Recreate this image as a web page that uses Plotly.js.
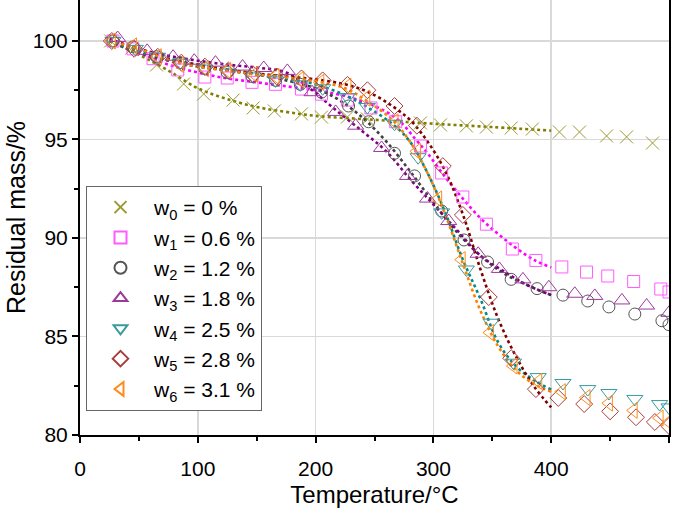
<!DOCTYPE html>
<html>
<head>
<meta charset="utf-8">
<script src="https://cdn.plot.ly/plotly-3.0.1.min.js"></script>
<style>html,body{margin:0;padding:0;background:#fff;}#chart{width:685px;height:508px;}</style>
</head>
<body>
<div id="chart"></div>
<script>
// ---- measured data (temperature °C, residual mass %) ----
const seriesNames = ["w<sub>0</sub> = 0 %","w<sub>1</sub> = 0.6 %","w<sub>2</sub> = 1.2 %","w<sub>3</sub> = 1.8 %","w<sub>4</sub> = 2.5 %","w<sub>5</sub> = 2.8 %","w<sub>6</sub> = 3.1 %"];

const w0_T = [26,44,65,88,105,130,147,165,188,205,227,244,289,306,328,345,366,384,407,424,447,464,486];
const w0_m = [100,99.64,98.78,97.82,97.31,97.0,96.6,96.45,96.3,96.14,96.14,96.04,95.84,95.74,95.69,95.63,95.58,95.53,95.38,95.38,95.18,95.13,94.82];

const w1_T = [28,45,62,83,106,125,146,166,188,205,227,247,268,289,307,325,345,367,387,409,430,448,470,493,500];
const w1_m = [100,99.6,99.1,98.53,98.17,98.12,97.9,97.8,97.56,97.3,97.0,96.6,95.9,94.67,93.3,92.08,90.7,89.44,88.86,88.53,88.27,88.07,87.79,87.41,87.26];

const w2_T = [28,45,65,85,106,125,146,166,187,205,228,245,267,284,307,326,346,366,388,410,431,449,471,494,500];
const w2_m = [100,99.7,99.2,98.9,98.6,98.4,98.2,98.0,97.8,97.4,96.7,95.9,94.3,93.15,91.37,89.9,88.78,87.9,87.43,87.1,86.8,86.5,86.14,85.8,85.6];

const w3_T = [32,57,79,97,115,138,156,176,197,217,234,256,278,295,313,338,356,376,398,420,437,460,481,500];
const w3_m = [100.15,99.5,99.2,99.0,98.9,98.7,98.63,98.48,97.4,96.4,95.7,94.57,93.15,92.0,90.86,89.2,88.43,87.9,87.5,87.17,87.06,86.83,86.57,86.2];

const w4_T = [28,47,66,85,106,126,147,166,187,206,227,244,267,287,307,328,349,368,389,410,431,449,471,492,500];
const w4_m = [100,99.6,99.2,98.9,98.6,98.4,98.2,98.0,97.8,97.6,97.15,96.65,95.8,94.1,91.3,88.4,85.7,83.67,82.94,82.64,82.33,82.13,81.83,81.57,81.4];

const w5_T = [27,46,66,86,106,126,147,167,188,206,227,244,267,286,308,325,347,366,387,406,428,450,472,488,500];
const w5_m = [100,99.6,99.2,98.9,98.7,98.5,98.3,98.2,98.1,98.0,97.77,97.5,96.7,95.7,93.65,91.17,87.0,83.9,82.33,81.88,81.57,81.2,80.9,80.66,80.46];

const w6_T = [27,45,66,85,106,125,148,166,187,204,227,243,267,286,304,324,348,368,389,409,430,449,470,492,500];
const w6_m = [100,99.75,99.2,98.8,98.6,98.5,98.3,98.2,98.05,97.9,97.7,97.1,95.9,94.4,91.98,88.9,85.2,83.5,82.72,82.2,81.9,81.62,81.25,80.86,80.66];

// fitted curves (dotted), 25–400 °C
const fit0_T = [25,50,75,100,125,150,175,200,250,300,350,400];
const fit0_m = [100,99.3,98.5,97.6,97.05,96.65,96.4,96.2,96.0,95.8,95.63,95.45];
const fit1_T = [25,50,75,100,125,150,175,200,225,250,270,285,295,310,325,340,355,370,385,400];
const fit1_m = [100,99.4,98.8,98.4,98.1,97.9,97.7,97.5,97.2,96.7,96.0,95.0,94.3,93.1,92.0,91.0,90.2,89.5,88.9,88.5];
const fit2_T = [25,50,75,100,125,150,175,200,220,240,260,280,300,320,340,360,380,400];
const fit2_m = [100,99.4,99.0,98.7,98.5,98.3,98.0,97.6,97.0,96.1,94.9,93.4,91.8,90.3,89.1,88.2,87.6,87.1];
const fit3_T = [25,50,75,100,125,150,175,195,215,240,260,280,300,320,340,360,380,400];
const fit3_m = [100.1,99.6,99.25,99.0,98.8,98.65,98.4,97.6,96.6,95.4,94.4,93.0,91.7,90.4,89.1,88.3,87.6,87.1];
const fit4_T = [25,50,75,100,125,150,175,200,225,245,265,280,295,310,325,340,355,370,385,400];
const fit4_m = [100,99.5,99.1,98.75,98.5,98.3,98.1,97.8,97.25,96.6,95.8,94.9,93.3,91.3,88.9,86.9,84.7,83.5,82.8,82.3];
const fit5_T = [25,50,75,100,125,150,175,200,225,245,265,280,295,310,325,340,355,370,385,400];
const fit5_m = [100,99.6,99.1,98.8,98.55,98.35,98.2,98.05,97.8,97.4,96.7,96.0,94.9,93.4,91.2,88.4,85.9,84.0,82.5,81.4];
const fit6_T = [25,50,75,100,125,150,175,200,225,245,265,280,295,310,325,340,355,370,385,400];
const fit6_m = [100,99.6,99.05,98.7,98.5,98.3,98.15,97.95,97.6,96.9,96.0,94.9,93.3,91.2,88.7,86.3,84.5,83.3,82.6,82.2];

const xTicks = [0,100,200,300,400,500];
const yTicks = [80,85,90,95,100];

// ---- styles ----
const markerSyms = ["x-thin-open","square-open","circle-open","triangle-up-open","triangle-down-open","diamond-open","triangle-left-open"];
const markerCols = ["#9a9a30","#ff5cff","#555555","#9a3a9a","#3a9a9a","#a83c3c","#ff8c1a"];
const lineCols   = ["#808000","#ff00ff","#404040","#800080","#008b8b","#800000","#ff8000"];
const markerSizes = [13,12,12,14,14,13,14];

const dataT = [w0_T,w1_T,w2_T,w3_T,w4_T,w5_T,w6_T];
const dataM = [w0_m,w1_m,w2_m,w3_m,w4_m,w5_m,w6_m];
const fitT = [fit0_T,fit1_T,fit2_T,fit3_T,fit4_T,fit5_T,fit6_T];
const fitM = [fit0_m,fit1_m,fit2_m,fit3_m,fit4_m,fit5_m,fit6_m];

const traces = [];
for (let i = 0; i < 7; i++) {
  traces.push({
    x: fitT[i], y: fitM[i], type: "scatter", mode: "lines",
    line: {color: lineCols[i], width: 2.6, dash: "dot", shape: "spline"},
    showlegend: false, hoverinfo: "skip", cliponaxis: true
  });
}
for (let i = 0; i < 7; i++) {
  traces.push({
    x: dataT[i], y: dataM[i], type: "scatter", mode: "markers", name: seriesNames[i],
    marker: {symbol: markerSyms[i], size: markerSizes[i], color: markerCols[i],
             line: {color: markerCols[i], width: 1}},
    cliponaxis: true
  });
}

const fontFam = "Liberation Sans, Arial, sans-serif";
const layout = {
  width: 685, height: 508,
  margin: {l: 80, r: 16, t: 0, b: 73, pad: 0},
  paper_bgcolor: "#ffffff", plot_bgcolor: "#ffffff",
  font: {family: fontFam, color: "#000", size: 20},
  showlegend: true,
  legend: {
    x: 0.0102, y: 0.5724, xanchor: "left", yanchor: "top",
    bgcolor: "#ffffff", bordercolor: "#666666", borderwidth: 1,
    font: {family: fontFam, size: 21, color: "#000"},
    itemwidth: 57, tracegroupgap: 0, itemsizing: "constant"
  },
  xaxis: {
    range: [0, 500], tickvals: xTicks, ticktext: xTicks.map(String),
    showline: true, linecolor: "#000", linewidth: 2,
    ticks: "outside", ticklen: 6, tickwidth: 2, tickcolor: "#000",
    showgrid: true, gridcolor: "#d9d9d9", gridwidth: 1.5, zeroline: false,
    minor: {dtick: 50, tick0: 0, ticks: "outside", ticklen: 4, tickwidth: 2, tickcolor: "#000", showgrid: false},
    tickfont: {size: 21, family: fontFam},
    ticklabelstandoff: 8,
    title: {text: "Temperature/°C", font: {size: 24, family: fontFam}, standoff: 10}
  },
  yaxis: {
    range: [80, 102.08], tickvals: yTicks, ticktext: yTicks.map(String),
    showline: true, linecolor: "#000", linewidth: 2, mirror: true,
    ticks: "outside", ticklen: 6, tickwidth: 2, tickcolor: "#000",
    showgrid: true, gridcolor: "#d9d9d9", gridwidth: 1.5, zeroline: false,
    minor: {dtick: 2.5, tick0: 80, ticks: "outside", ticklen: 4, tickwidth: 2, tickcolor: "#000", showgrid: false},
    tickfont: {size: 21, family: fontFam},
    title: {text: "Residual mass/%", font: {size: 25, family: fontFam}, standoff: 0}
  }
};

Plotly.newPlot("chart", traces, layout, {displayModeBar: false, staticPlot: true});
</script>
</body>
</html>
